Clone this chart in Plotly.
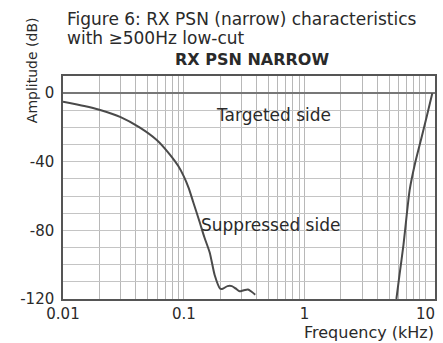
import plotly.graph_objects as go
import math

# Suppressed-side curve (frequency kHz, amplitude dB)
supp_freq = [0.01, 0.015, 0.02, 0.03, 0.043, 0.06, 0.077, 0.09, 0.1, 0.11, 0.119, 0.135, 0.148, 0.164, 0.18, 0.2, 0.21, 0.23, 0.25, 0.27, 0.29, 0.31, 0.34, 0.36, 0.39]
supp_db   = [-5, -7.5, -9.7, -14, -20, -27.5, -36, -42.5, -48.5, -55.5, -63, -75, -84, -93, -106, -114, -114, -112.5, -112.5, -114, -115.5, -115, -114.5, -115.5, -117.5]

# Targeted-side curve
targ_freq = [5.75, 6.1, 6.58, 7.0, 7.4, 8.2, 9.2, 10.3, 11.4]
targ_db   = [-120, -106, -88.5, -71, -56.5, -41, -27, -13, 0]

x_labels = {0.01: "0.01", 0.1: "0.1", 1: "1", 10: "10"}
y_labels = {0: "0", -40: "-40", -80: "-80", -120: "-120"}

title_lines = ["Figure 6: RX PSN (narrow) characteristics", "with \u2265500Hz low-cut"]
subtitle = "RX PSN NARROW"

FONT = "DejaVu Sans, Verdana, sans-serif"
TXT = "#2a2a2a"

xt = []
for d in [0.01, 0.1, 1, 10]:
    for m in range(1, 10):
        v = round(d * m, 6)
        if v <= 12:
            xt.append(v)
xtext = [x_labels.get(v, "") for v in xt]
yt = list(range(-120, 11, 10))
ytext = [y_labels.get(v, "") for v in yt]

fig = go.Figure()
fig.add_trace(go.Scatter(x=supp_freq, y=supp_db, mode="lines",
                         line=dict(color="#4a4a4a", width=2, shape="spline", smoothing=0.6),
                         showlegend=False, hoverinfo="skip"))
fig.add_trace(go.Scatter(x=targ_freq, y=targ_db, mode="lines",
                         line=dict(color="#4a4a4a", width=2, shape="spline", smoothing=0.5),
                         showlegend=False, hoverinfo="skip"))

fig.update_layout(
    width=443, height=343,
    margin=dict(l=63, r=6, t=76, b=44),
    paper_bgcolor="white", plot_bgcolor="white",
    font=dict(family=FONT, size=15, color=TXT),
    showlegend=False,
)
fig.update_xaxes(type="log", range=[-2, math.log10(12)],
                 tickvals=xt, ticktext=xtext,
                 showgrid=True, gridcolor="#b8b8b8", gridwidth=1,
                 showline=True, linecolor="#555", linewidth=1.5, mirror=True,
                 ticks="", ticklabelstandoff=0, tickfont=dict(size=15, color=TXT), zeroline=False)
fig.update_yaxes(range=[-120, 10],
                 tickvals=yt, ticktext=ytext,
                 showgrid=True, gridcolor="#c4c4c4", gridwidth=1,
                 showline=True, linecolor="#555", linewidth=1.5, mirror=True,
                 zeroline=True, zerolinecolor="#777", zerolinewidth=1.5,
                 ticks="", ticklabelstandoff=4, tickfont=dict(size=15, color=TXT))

def px(x, y):
    return (x - 63) / 374, 1 - (y - 76) / 223

for text, yy in [(title_lines[0], 19), (title_lines[1], 38)]:
    ax, ay = px(65, yy)
    fig.add_annotation(text=text, xref="paper", yref="paper", x=ax, y=ay,
                       xanchor="left", yanchor="middle", showarrow=False,
                       font=dict(size=17, color=TXT, family=FONT))

for text, cx, cy, size, angle in [
    ("<b>" + subtitle + "</b>", 253, 59, 16, 0),
    ("Targeted side", 275, 115, 17, 0),
    ("Suppressed side", 272, 225, 17, 0),
    ("Amplitude (dB)", 32, 70, 14, -90),
    ("Frequency (kHz)", 371, 332, 16, 0),
]:
    ax, ay = px(cx, cy)
    fig.add_annotation(text=text, xref="paper", yref="paper", x=ax, y=ay,
                       textangle=angle, xanchor="center", yanchor="middle",
                       showarrow=False, font=dict(size=size, color=TXT, family=FONT))

fig.write_html("out.html")
